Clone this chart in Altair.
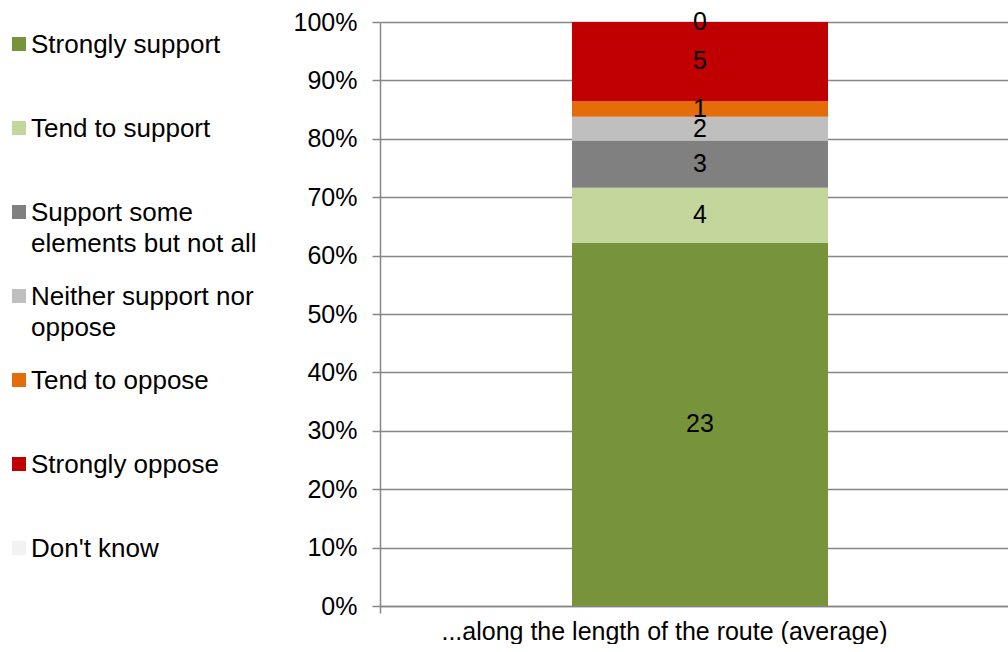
import altair as alt
import pandas as pd

categories = [
    "Strongly support",
    "Tend to support",
    "Support some elements but not all",
    "Neither support nor oppose",
    "Tend to oppose",
    "Strongly oppose",
    "Don't know",
]
legend_labels = [
    "Strongly support",
    "Tend to support",
    "Support some\nelements but not all",
    "Neither support nor\noppose",
    "Tend to oppose",
    "Strongly oppose",
    "Don't know",
]
values = [23, 3.5, 3, 1.5, 1, 5, 0]
colors = ["#77933C", "#C3D69B", "#808080", "#BFBFBF", "#E46C0A", "#C00000", "#F2F2F2"]
group = "...along the length of the route (average)"

FONT = "Liberation Sans"
FS = 25
LFS = 26

df = pd.DataFrame({
    "cat": categories,
    "label": legend_labels,
    "value": values,
    "order": list(range(len(categories))),
    "group": [group] * len(categories),
})

color_scale = alt.Scale(domain=categories, range=colors)

base = alt.Chart(df).transform_joinaggregate(
    total="sum(value)"
).transform_window(
    cum="sum(value)", sort=[alt.SortField("order")], frame=[None, 0]
).transform_calculate(
    end="datum.cum / datum.total",
    start="(datum.cum - datum.value) / datum.total",
    mid="(datum.cum - datum.value / 2) / datum.total",
)

xenc = alt.X(
    "group:N",
    scale=alt.Scale(paddingInner=0, paddingOuter=0),
    axis=alt.Axis(
        title=None, labelAngle=0, labelFont=FONT, labelFontSize=FS, labelColor="#000000",
        domainColor="#868686", domainWidth=1.5, tickColor="#868686", tickWidth=1.5,
        tickSize=7, tickOffset=-314, labelOffset=284, labelPadding=6, labelLimit=1000,
    ),
)

bars = base.mark_bar(size=256, xOffset=6).encode(
    x=xenc,
    y=alt.Y(
        "start:Q",
        scale=alt.Scale(domain=[0, 1]),
        axis=alt.Axis(
            title=None, format=".0%", values=[i / 10 for i in range(11)],
            labelFont=FONT, labelFontSize=FS, labelColor="#000000",
            gridColor="#868686", gridWidth=1.5, domainColor="#868686", domainWidth=1.5,
            tickColor="#868686", tickWidth=1.5, tickSize=8, labelPadding=15,
        ),
    ),
    y2="end:Q",
    color=alt.Color("cat:N", scale=color_scale, legend=None),
)

texts = base.mark_text(font=FONT, fontSize=FS, color="#000000", baseline="middle", dx=6).encode(
    x=alt.X("group:N"),
    y=alt.Y("mid:Q"),
    text=alt.Text("value:Q", format=".0f"),
)

main = alt.layer(bars, texts).properties(width=628, height=584)

leg_base = alt.Chart(df)
yleg = alt.Y("order:Q", scale=alt.Scale(domain=[-22 / 84, 6 + 58 / 84], reverse=True), axis=None)
squares = leg_base.mark_square(size=196, opacity=1).encode(
    x=alt.value(19),
    y=yleg,
    color=alt.Color("cat:N", scale=color_scale, legend=None),
)
leg_text = leg_base.mark_text(
    font=FONT, fontSize=LFS, color="#000000", align="left", baseline="alphabetic",
    dy=9, lineBreak="\n", lineHeight=31,
).encode(
    x=alt.value(31),
    y=yleg,
    text="label:N",
)
legend = alt.layer(squares, leg_text).properties(width=290, height=584)

chart = alt.hconcat(legend, main, spacing=3).properties(
    padding={"left": 0, "top": 10, "right": 0, "bottom": 0},
    background="white",
).configure_view(stroke=None, strokeWidth=0)

chart.save("out.html", embed_options={"renderer": "svg", "actions": False})
